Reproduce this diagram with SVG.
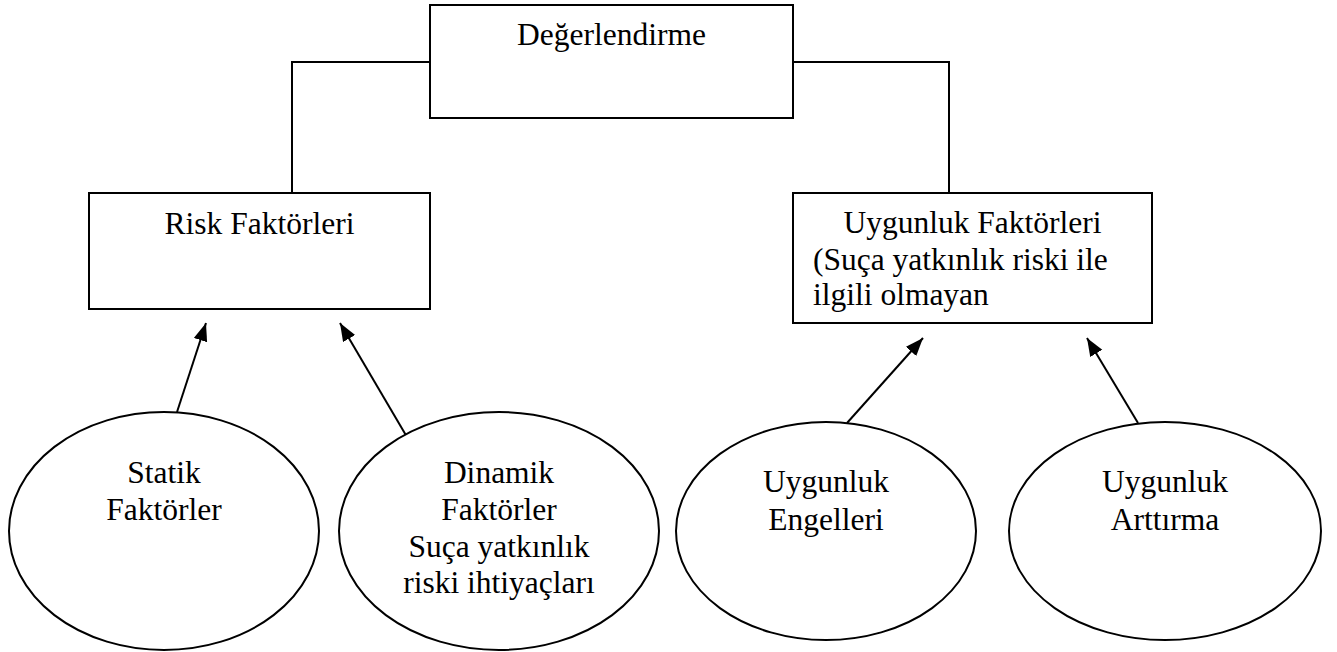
<svg xmlns="http://www.w3.org/2000/svg" width="1337" height="652" viewBox="0 0 1337 652">
<style>
.box{fill:#fff;stroke:#000;stroke-width:2}
.ell{fill:#fff;stroke:#000;stroke-width:2}
.t{font-family:"Liberation Serif","Times New Roman",serif;font-size:31.5px;fill:#000}
.c{text-anchor:middle}
.conn{fill:none;stroke:#000;stroke-width:2}
</style>
<defs>
<marker id="ah" markerUnits="userSpaceOnUse" markerWidth="20" markerHeight="16" refX="18" refY="7" orient="auto">
<path d="M0,0 L18,7 L0,14 Z" fill="#000"/>
</marker>
</defs>
<g id="connectors">
<polyline class="conn" points="430,62 292,62 292,193"/>
<polyline class="conn" points="793,62 949,62 949,193"/>
<line class="conn" x1="177" y1="412" x2="206" y2="323" marker-end="url(#ah)"/>
<line class="conn" x1="407" y1="437" x2="340" y2="323" marker-end="url(#ah)"/>
<line class="conn" x1="847" y1="423" x2="923" y2="338" marker-end="url(#ah)"/>
<line class="conn" x1="1138" y1="423" x2="1087" y2="338" marker-end="url(#ah)"/>
</g>
<g id="degerlendirme">
<rect class="box" x="430" y="5" width="363" height="113"/>
<text class="t c" x="611.5" y="45">Değerlendirme</text>
</g>
<g id="risk">
<rect class="box" x="89" y="193" width="341" height="116"/>
<text class="t c" x="259.5" y="234">Risk Faktörleri</text>
</g>
<g id="uygunluk">
<rect class="box" x="793" y="193" width="359" height="130"/>
<text class="t c" x="972.5" y="233">Uygunluk Faktörleri</text>
<text class="t" x="813" y="270">(Suça yatkınlık riski ile</text>
<text class="t" x="813" y="305">ilgili olmayan</text>
</g>
<g id="statik">
<ellipse class="ell" cx="164" cy="531" rx="155" ry="119"/>
<text class="t c" x="164" y="483">Statik</text>
<text class="t c" x="164" y="520">Faktörler</text>
</g>
<g id="dinamik">
<ellipse class="ell" cx="499" cy="531" rx="160" ry="119"/>
<text class="t c" x="499" y="483">Dinamik</text>
<text class="t c" x="499" y="520">Faktörler</text>
<text class="t c" x="499" y="557">Suça yatkınlık</text>
<text class="t c" x="499" y="593">riski ihtiyaçları</text>
</g>
<g id="engelleri">
<ellipse class="ell" cx="826" cy="531" rx="150" ry="109"/>
<text class="t c" x="826" y="492">Uygunluk</text>
<text class="t c" x="826" y="530">Engelleri</text>
</g>
<g id="arttirma">
<ellipse class="ell" cx="1165" cy="531" rx="156" ry="109"/>
<text class="t c" x="1165" y="492">Uygunluk</text>
<text class="t c" x="1165" y="530">Arttırma</text>
</g>
</svg>
